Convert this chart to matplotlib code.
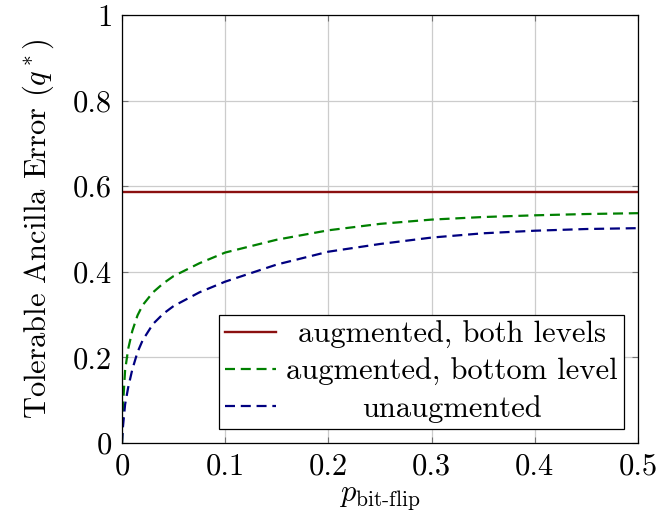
import types
import matplotlib
matplotlib.use("Agg")
import matplotlib.pyplot as plt
from matplotlib.ticker import FuncFormatter
from matplotlib.offsetbox import TextArea
from matplotlib.transforms import Bbox

plt.rcParams['font.family'] = 'serif'
plt.rcParams['font.serif'] = ['cmr10', 'DejaVu Serif']
plt.rcParams['mathtext.fontset'] = 'cm'
plt.rcParams['axes.formatter.use_mathtext'] = True

# values
p = [0, 0.001, 0.003, 0.006, 0.01, 0.015, 0.02, 0.03, 0.04, 0.05, 0.075, 0.1,
     0.15, 0.2, 0.25, 0.3, 0.35, 0.4, 0.45, 0.5]
q_bottom = [0, 0.09, 0.17, 0.22, 0.262, 0.298, 0.322, 0.352, 0.373, 0.39, 0.42, 0.445,
            0.475, 0.497, 0.512, 0.522, 0.528, 0.532, 0.535, 0.537]
q_unaug = [0, 0.04, 0.09, 0.13, 0.172, 0.212, 0.24, 0.278, 0.302, 0.32, 0.352, 0.377,
           0.417, 0.447, 0.465, 0.480, 0.490, 0.496, 0.500, 0.502]
q_both = 0.586

labels = ['augmented, both levels', 'augmented, bottom level', 'unaugmented']
xticks = [0, 0.1, 0.2, 0.3, 0.4, 0.5]
yticks = [0, 0.2, 0.4, 0.6, 0.8, 1]

FS = 22

fig = plt.figure(figsize=(6.62, 5.18), dpi=100)
ax = fig.add_axes([0.1843, 0.1448, 0.9637 - 0.1843, 0.971 - 0.1448])

ax.plot([p[0], p[-1]], [q_both, q_both], color='#8b1010', lw=1.7, label=labels[0])
ax.plot(p, q_bottom, color='#008000', lw=1.6, ls=(0, (4.5, 2.6)), label=labels[1])
ax.plot(p, q_unaug, color='#000080', lw=1.6, ls=(0, (4.5, 2.6)), label=labels[2])

ax.set_xlim(0, 0.5)
ax.set_ylim(0, 1)
ax.set_xticks(xticks)
ax.set_yticks(yticks)
fmt = FuncFormatter(lambda v, pos: '%g' % v)
ax.xaxis.set_major_formatter(fmt)
ax.yaxis.set_major_formatter(fmt)
ax.tick_params(direction='in', length=4.5, width=0.8, color='0.45',
               top=True, right=True, labelsize=FS, pad=7)
ax.grid(True, color='0.8', lw=0.9)
ax.set_axisbelow(True)
for s in ax.spines.values():
    s.set_linewidth(0.9)

ax.set_xlabel(r'$p_{\mathrm{bit}\text{-}\mathrm{flip}}$', fontsize=FS, labelpad=3)
ax.set_ylabel(r'Tolerable Ancilla Error ($q^*$)', fontsize=FS, labelpad=12)

leg = ax.legend(loc='lower right', fontsize=FS, frameon=True, fancybox=False,
                edgecolor='black', framealpha=1, borderaxespad=0.45,
                handlelength=1.65, handletextpad=0.35, labelspacing=0.3,
                borderpad=0.2)
leg.get_frame().set_linewidth(0.9)

# center the legend texts in a common column, like pgfplots does
fig.canvas.draw()
r = fig.canvas.get_renderer()
texts = leg.get_texts()
W = max(t.get_window_extent(r).width for t in texts)
for t in texts:
    t.set_ha('center')
rows = leg._legend_handle_box.get_children()[0].get_children()


def fixed_bbox(self, renderer):
    b = TextArea.get_bbox(self, renderer)
    return Bbox.from_bounds(-W / 2, b.y0, W, b.height)


for row in rows:
    area = row.get_children()[1]
    area.get_bbox = types.MethodType(fixed_bbox, area)

fig.savefig('out.png', dpi=100)
